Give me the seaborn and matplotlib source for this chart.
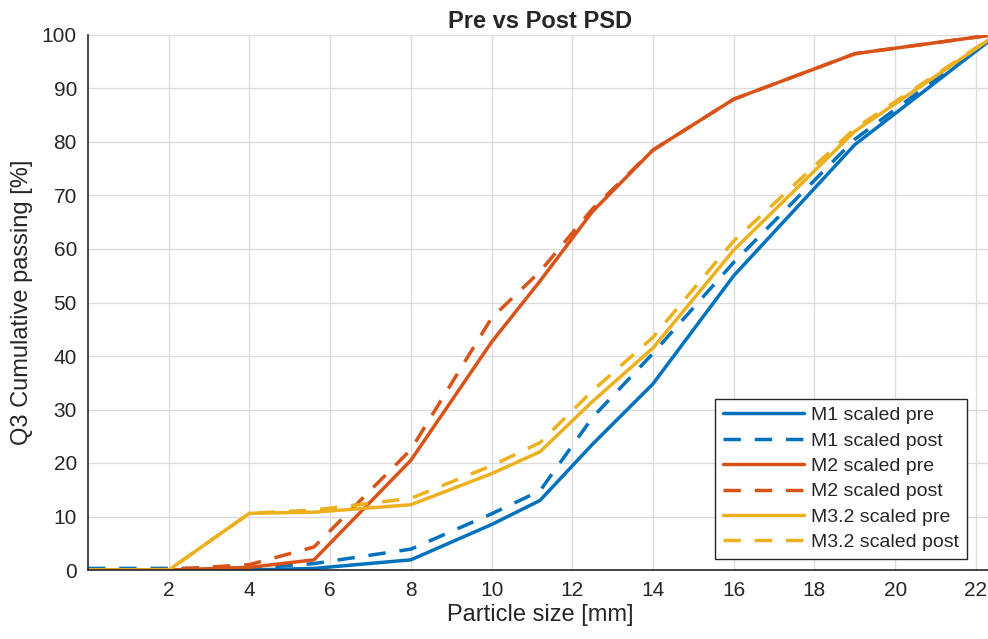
import matplotlib
matplotlib.use("Agg")
import matplotlib.pyplot as plt
import seaborn as sns
import pandas as pd

sizes = [0, 2, 4, 5.6, 8, 10, 11.2, 12.5, 14, 16, 19, 22.4]

m1_pre = [0.0, 0.0, 0.0, 0.3, 1.9, 8.5, 13.0, 23.5, 34.8, 55.0, 79.5, 99.3]
m1_post = [0.3, 0.3, 0.3, 1.2, 3.9, 10.5, 14.8, 28.5, 40.5, 57.5, 80.5, 99.5]
m2_pre = [0.0, 0.0, 0.5, 1.9, 20.5, 42.6, 54.0, 67.0, 78.5, 88.0, 96.5, 100.0]
m2_post = [0.0, 0.1, 1.0, 4.3, 22.5, 47.1, 55.8, 67.5, 78.5, 88.0, 96.5, 100.0]
m3_pre = [0.0, 0.0, 10.6, 10.8, 12.2, 18.0, 22.1, 31.5, 41.5, 59.8, 82.0, 99.5]
m3_post = [0.0, 0.0, 10.6, 11.2, 13.4, 19.5, 23.8, 33.5, 43.5, 61.5, 82.5, 99.6]

labels = ["M1 scaled pre", "M1 scaled post", "M2 scaled pre",
          "M2 scaled post", "M3.2 scaled pre", "M3.2 scaled post"]
series = [m1_pre, m1_post, m2_pre, m2_post, m3_pre, m3_post]

c_blue, c_orange, c_yellow = "#0072BD", "#D95319", "#EDB120"
palette = dict(zip(labels, [c_blue, c_blue, c_orange, c_orange, c_yellow, c_yellow]))
solid, dashed = "", (5, 4)
dashes = dict(zip(labels, [solid, dashed, solid, dashed, solid, dashed]))

rows = []
for lab, vals in zip(labels, series):
    for s, v in zip(sizes, vals):
        rows.append({"size": s, "passing": v, "series": lab})
df = pd.DataFrame(rows)

sns.set_style("white")
plt.rcParams["font.family"] = ["Liberation Sans", "DejaVu Sans"]

fig = plt.figure(figsize=(9.88, 6.39), dpi=100)
ax = fig.add_axes([88 / 988, 1 - 570 / 639, (992 - 88) / 988, (570 - 35) / 639])

sns.lineplot(data=df, x="size", y="passing", hue="series", style="series",
             palette=palette, dashes=dashes, hue_order=labels, style_order=labels,
             linewidth=2.5, sort=False, ax=ax)

ax.set_xlim(0, 22.4)
ax.set_ylim(0, 100)
ax.set_xticks(range(2, 23, 2))
ax.set_yticks(range(0, 101, 10))
ax.grid(True, color="#dcdcdc", linewidth=1)
ax.set_axisbelow(True)
for side in ["top", "right"]:
    ax.spines[side].set_visible(False)
for side in ["left", "bottom"]:
    ax.spines[side].set_color("#262626")
    ax.spines[side].set_linewidth(1.2)
ax.tick_params(direction="in", length=7, width=1.2, colors="#262626",
               labelsize=15, pad=8)

ax.set_xlabel("Particle size [mm]", fontsize=17, color="#262626", labelpad=3)
ax.set_ylabel("Q3 Cumulative passing [%]", fontsize=17, color="#262626", labelpad=6)
ax.set_title("Pre vs Post PSD", fontsize=17, fontweight="bold", pad=5)

leg = ax.legend(loc="lower right", fontsize=14, handlelength=4.2,
                handletextpad=0.35, borderpad=0.4, labelspacing=0.4,
                borderaxespad=0.0,
                fancybox=False, framealpha=1, edgecolor="#262626", title=None)
leg.get_frame().set_linewidth(1.0)
leg.set_bbox_to_anchor(((967 - 88) / 904, (570 - 559) / 535), transform=ax.transAxes)

fig.savefig("out.png", dpi=100)
